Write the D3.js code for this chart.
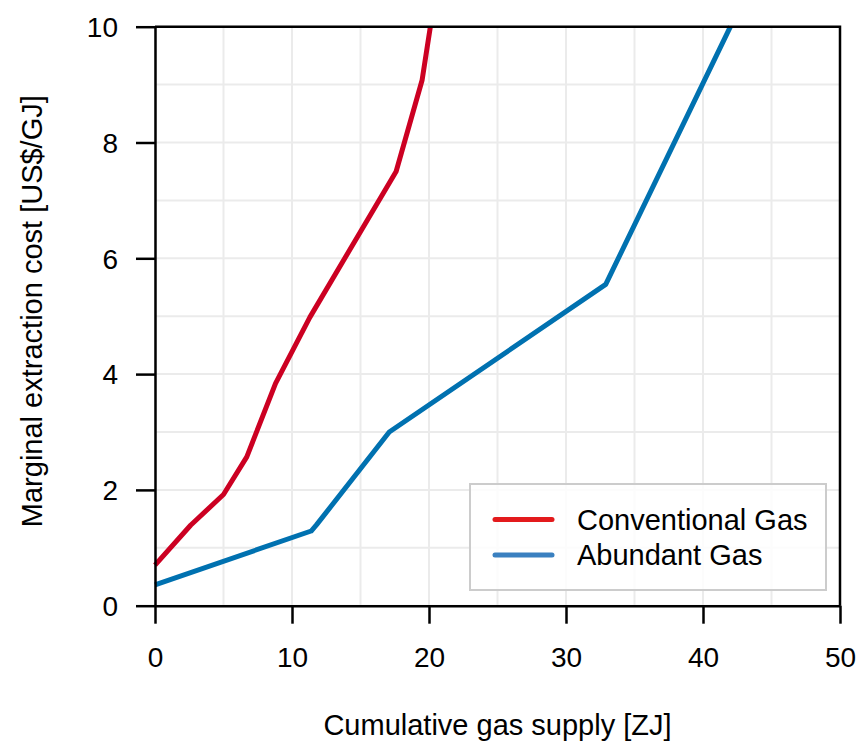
<!DOCTYPE html>
<html>
<head>
<meta charset="utf-8">
<script src="https://cdn.jsdelivr.net/npm/d3@7"></script>
<style>
  body { margin: 0; background: #fff; }
  text { font-family: "Liberation Sans", Arial, sans-serif; fill: #000; }
</style>
</head>
<body>
<div id="chart"></div>
<script>
// data
var seriesNames = ["Conventional Gas", "Abundant Gas"];
var convSupply = [0, 2.6, 5.0, 6.7, 8.8, 11.3, 17.6, 19.5, 20.1];
var convCost   = [0.70, 1.39, 1.92, 2.57, 3.84, 4.98, 7.5, 9.08, 10];
var abunSupply = [0, 11.4, 11.8, 17.1, 32.9, 42.0];
var abunCost   = [0.36, 1.29, 1.40, 3.0, 5.55, 10];
var xTicks = [0, 10, 20, 30, 40, 50];
var yTicks = [0, 2, 4, 6, 8, 10];

var lineColors = ["#cc0022", "#0071b0"];
var legendColors = ["#e31a1c", "#3a80c0"];

var W = 861, H = 744;
var margin = { top: 26.7, right: 21, bottom: 138.3, left: 155 },
    width = W - margin.left - margin.right,
    height = H - margin.top - margin.bottom;
var fs = 29;

var svg = d3.select("#chart")
    .append("svg")
    .attr("width", W)
    .attr("height", H)
    .append("g")
    .attr("transform", `translate(${margin.left} ${margin.top})`);

var x = d3.scaleLinear().domain([0, 50]).range([0, width]);
var y = d3.scaleLinear().domain([0, 10]).range([height, 0]);

// grid
svg.append("g")
    .selectAll("line")
    .data(d3.range(0, 51, 5))
    .enter().append("line")
    .attr("x1", d => x(d)).attr("x2", d => x(d))
    .attr("y1", 0).attr("y2", height)
    .attr("stroke", "#ebebeb")
    .attr("stroke-width", 2);

svg.append("g")
    .selectAll("line")
    .data(d3.range(0, 11, 1))
    .enter().append("line")
    .attr("y1", d => y(d)).attr("y2", d => y(d))
    .attr("x1", 0).attr("x2", width)
    .attr("stroke", "#ebebeb")
    .attr("stroke-width", 2);

// lines
var series = [
    convSupply.map((v, i) => [v, convCost[i]]),
    abunSupply.map((v, i) => [v, abunCost[i]])
];
var line = d3.line().x(d => x(d[0])).y(d => y(d[1]));

svg.append("g")
    .selectAll("path")
    .data(series)
    .enter().append("path")
    .attr("d", line)
    .attr("fill", "none")
    .attr("stroke", (d, i) => lineColors[i])
    .attr("stroke-width", 5)
    .attr("stroke-linejoin", "round");

// frame (top + right)
svg.append("path")
    .attr("d", `M0,0H${width}V${height}`)
    .attr("fill", "none")
    .attr("stroke", "#000")
    .attr("stroke-width", 2.5);

// axes
var xAxis = svg.append("g")
    .attr("transform", `translate(0, ${height})`)
    .call(d3.axisBottom(x).tickValues(xTicks).tickSize(18).tickPadding(23).tickSizeOuter(0));
var yAxis = svg.append("g")
    .call(d3.axisLeft(y).tickValues(yTicks).tickSize(19).tickPadding(18).tickSizeOuter(0));

[xAxis, yAxis].forEach(function (a) {
    a.selectAll("path.domain").attr("stroke", "#000").attr("stroke-width", 2.5);
    a.selectAll(".tick line").attr("stroke", "#000").attr("stroke-width", 2.5);
    a.selectAll(".tick text")
        .attr("font-family", "Liberation Sans, Arial, sans-serif")
        .attr("font-size", 28)
        .attr("fill", "#000");
});
xAxis.selectAll(".tick text").attr("dy", "0.71em");
yAxis.selectAll(".tick text").attr("dy", "0.35em");

// axis titles
svg.append("text")
    .attr("x", width / 2)
    .attr("y", height + 129)
    .attr("text-anchor", "middle")
    .attr("font-size", fs)
    .text("Cumulative gas supply [ZJ]");

svg.append("text")
    .attr("transform", `translate(${42 - margin.left}, ${height / 2 - 5}) rotate(-90)`)
    .attr("text-anchor", "middle")
    .attr("font-size", fs)
    .text("Marginal extraction cost [US$/GJ]");

// legend
var legend = svg.append("g")
    .attr("transform", `translate(${470 - margin.left}, ${484 - margin.top})`);

legend.append("rect")
    .attr("width", 356)
    .attr("height", 106)
    .attr("fill", "#fff")
    .attr("fill-opacity", 0.82)
    .attr("stroke", "#cccccc")
    .attr("stroke-width", 2);

var items = legend.selectAll("g.item")
    .data(seriesNames)
    .enter().append("g")
    .attr("class", "item")
    .attr("transform", (d, i) => `translate(0, ${35.5 + i * 35.5})`);

items.append("line")
    .attr("x1", 25).attr("x2", 82)
    .attr("stroke", (d, i) => legendColors[i])
    .attr("stroke-width", 5)
    .attr("stroke-linecap", "round");

items.append("text")
    .attr("x", 107)
    .attr("dy", "0.35em")
    .attr("font-size", fs)
    .text(d => d);
</script>
</body>
</html>
